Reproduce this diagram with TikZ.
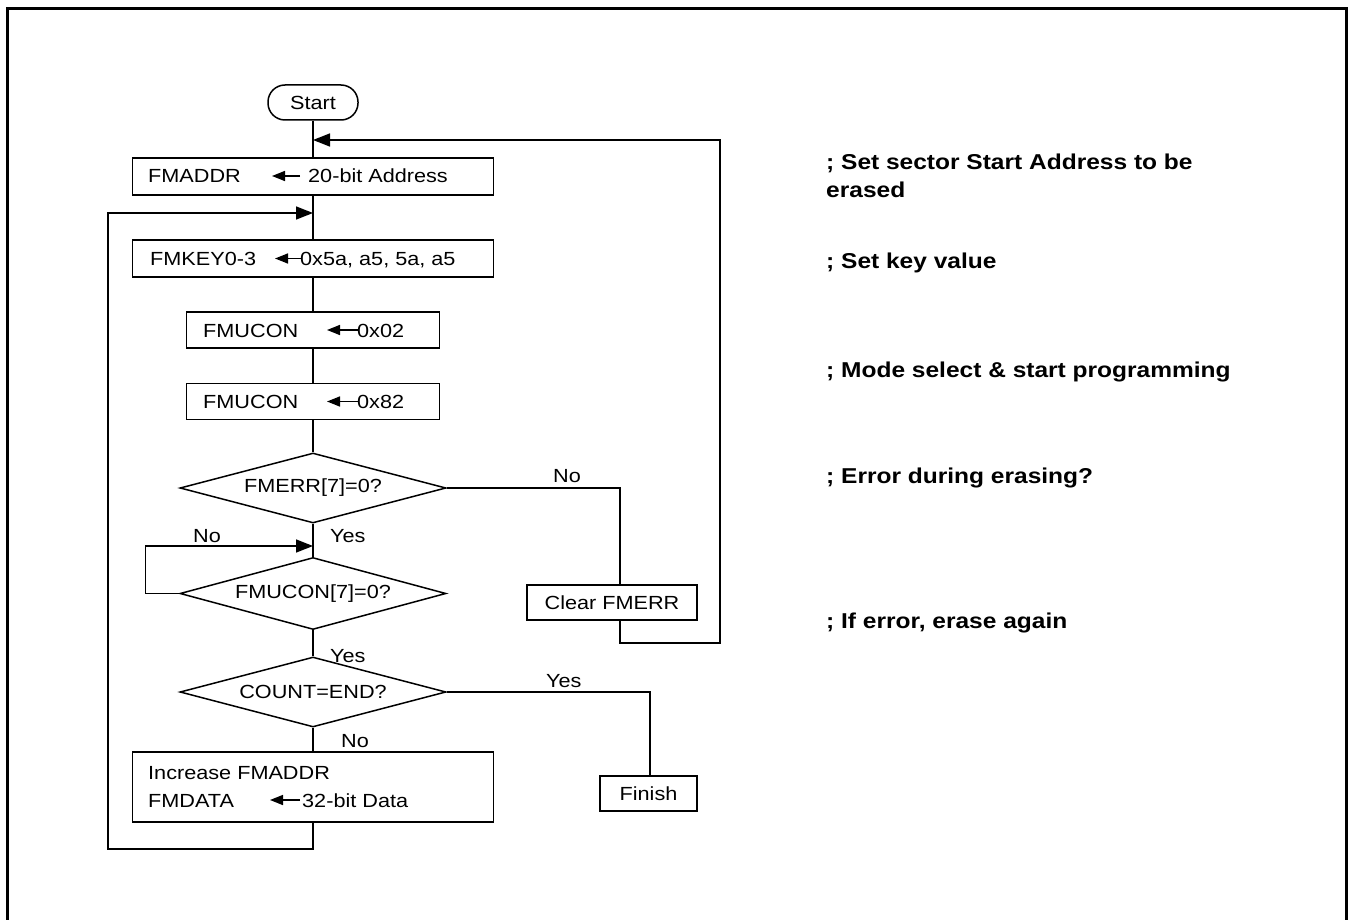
\documentclass[tikz,border=0pt]{standalone}
\usepackage{fontspec}
\setmainfont[FakeStretch=1.14]{Liberation Sans}
\usetikzlibrary{arrows.meta,shapes.geometric}
\tikzset{
  box/.style={draw,line width=1.5pt,inner sep=0pt},
  startbox/.style={box,rounded corners=17pt,minimum width=90pt,minimum height=35pt},
  decision/.style={draw,line width=1.5pt,diamond,aspect=3.8,inner sep=0pt,minimum width=266pt},
  txt/.style={inner sep=0pt,font=\fontsize{19}{23}\selectfont},
  cmt/.style={inner sep=0pt,anchor=base west,font=\fontsize{21.5}{28}\selectfont\bfseries},
  conn/.style={line width=1.5pt},
  arr/.style={conn,-{Triangle[length=17pt,width=13pt]}},
  inarrow/.style={line width=1.5pt,-{Triangle[length=13pt,width=10pt]}},
}
\begin{document}
\begin{tikzpicture}[x=1pt,y=-1pt]
\useasboundingbox (0,0) rectangle (1349,920);
% frame
\draw[line width=3pt] (7,920) -- (7,9) -- (1346,9) -- (1346,920);

% nodes
\node[startbox,txt] (start) at (313,102.5) {Start};
\node[box,minimum width=361pt,minimum height=37pt] (addr) at (313,176.5) {};
\node[box,minimum width=361pt,minimum height=37pt] (key) at (313,258.5) {};
\node[box,minimum width=253pt,minimum height=36pt] (uc1) at (313,330) {};
\node[box,minimum width=253pt,minimum height=36pt] (uc2) at (313,401.5) {};
\node[decision,txt,minimum height=70pt] (d1) at (313,488) {FMERR[7]=0?};
\node[decision,txt,minimum height=72pt] (d2) at (313,593.5) {FMUCON[7]=0?};
\node[decision,txt,minimum height=70pt] (d3) at (313,692) {COUNT=END?};
\node[box,txt,minimum width=170pt,minimum height=35pt] (clear) at (612,602.5) {Clear FMERR};
\node[box,txt,minimum width=97pt,minimum height=35pt] (finish) at (648.5,793.5) {Finish};
\node[box,minimum width=361pt,minimum height=70pt] (inc) at (313,787) {};

% box texts
\node[txt,anchor=base west] (addrL) at (148,183) {FMADDR};
\node[txt,anchor=base west] (addrR) at (308,183) {20-bit Address};
\draw[inarrow] (300,176) -- (272,176);
\node[txt,anchor=base west] (keyL) at (150,265.5) {FMKEY0-3};
\node[txt,anchor=base west] (keyR) at (300,265.5) {0x5a, a5, 5a, a5};
\draw[inarrow] (302,258.5) -- (275,258.5);
\node[txt,anchor=base west] (uc1L) at (203,337) {FMUCON};
\node[txt,anchor=base west] (uc1R) at (357,337) {0x02};
\draw[inarrow] (358,330) -- (327,330);
\node[txt,anchor=base west] (uc2L) at (203,408.5) {FMUCON};
\node[txt,anchor=base west] (uc2R) at (357,408.5) {0x82};
\draw[inarrow] (358,401.5) -- (327,401.5);
\node[txt,anchor=base west] (incA) at (148,779) {Increase FMADDR};
\node[txt,anchor=base west] (incB) at (148,807) {FMDATA};
\node[txt,anchor=base west] (incC) at (302,807) {32-bit Data};
\draw[inarrow] (300,800) -- (270,800);

% junction coordinates
\coordinate (j1) at (313,140);
\coordinate (j2) at (313,213);
\coordinate (j3) at (313,546);

% main line
\draw[conn] (start.south) -- (addr.north);
\draw[conn] (addr.south) -- (key.north);
\draw[conn] (key.south) -- (uc1.north);
\draw[conn] (uc1.south) -- (uc2.north);
\draw[conn] (uc2.south) -- (d1.north);
\draw[conn] (d1.south) -- (d2.north);
\draw[conn] (d2.south) -- (d3.north);
\draw[conn] (d3.south) -- (inc.north);

% branches
\draw[conn] (d1.east) -| ([xshift=8pt]clear.north);
\draw[arr] ([xshift=8pt]clear.south) -- ++(0,22) -| ([xshift=407pt]j1) -- (j1);
\draw[arr] (d2.west) -- ++(-34,0) |- (j3);
\draw[conn] (d3.east) -| ([xshift=1.5pt]finish.north);
\draw[arr] (inc.south) -- ++(0,26) -| ([xshift=-205pt]j2) -- (j2);

% labels
\node[txt,anchor=base west] (l1) at (553,482) {No};
\node[txt,anchor=base west] (l2) at (330,542) {Yes};
\node[txt,anchor=base west] (l3) at (193,542) {No};
\node[txt,anchor=base west] (l4) at (330,662) {Yes};
\node[txt,anchor=base west] (l5) at (546,687) {Yes};
\node[txt,anchor=base west] (l6) at (341,747) {No};

% comments
\node[cmt] (c1) at (826,170) {; Set sector Start Address to be};
\node[cmt] (c1b) at (826,198) {erased};
\node[cmt] (c2) at (826,268) {; Set key value};
\node[cmt] (c3) at (826,377) {; Mode select \& start programming};
\node[cmt] (c4) at (826,483) {; Error during erasing?};
\node[cmt] (c5) at (826,628) {; If error, erase again};
\end{tikzpicture}
\end{document}
